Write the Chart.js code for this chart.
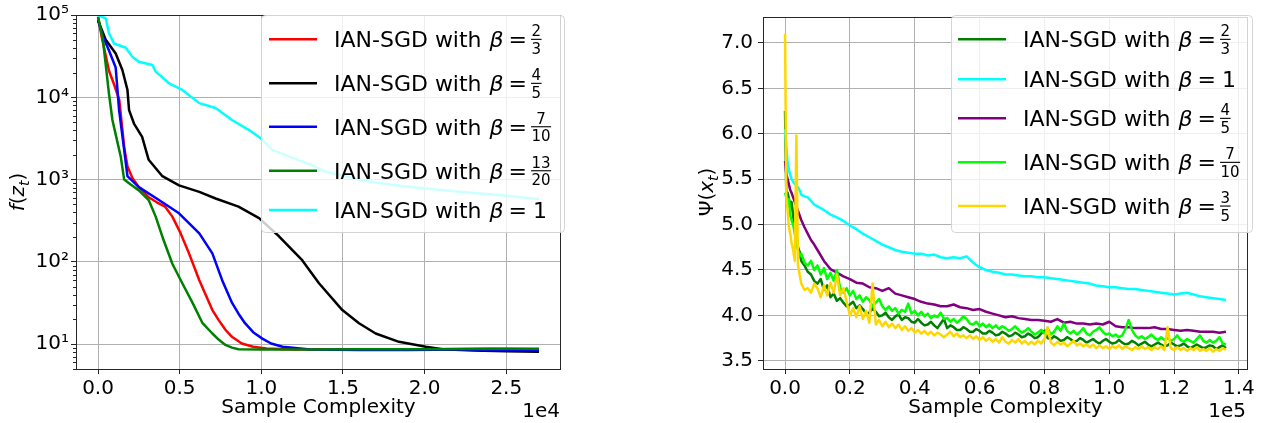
<!DOCTYPE html>
<html><head><meta charset="utf-8">
<script src="https://cdn.jsdelivr.net/npm/chart.js@4.4.1/dist/chart.umd.min.js"></script>
<style>
html,body{margin:0;padding:0;background:#fff;width:1262px;height:423px;overflow:hidden}
canvas{position:absolute;top:0}
#c1{left:0}#c2{left:631px}
</style></head><body>
<canvas id="c1" width="631" height="423"></canvas>
<canvas id="c2" width="631" height="423"></canvas>
<script>
// ---------------- DATA (left: x in units of 1e4) ----------------
const leftBetas = ['2/3', '4/5', '7/10', '13/20', '1'];
const leftXTicks = [0, 0.5, 1.0, 1.5, 2.0, 2.5];
const leftYTicks = [10, 100, 1000, 10000, 100000];

const redX = [0, 0.026, 0.067, 0.10, 0.13, 0.16, 0.18, 0.21, 0.25, 0.31, 0.36, 0.41, 0.455, 0.506, 0.557, 0.62, 0.70, 0.74, 0.78, 0.82, 0.88, 0.95, 1.03, 1.2, 1.5, 1.8, 2.1, 2.4, 2.7];
const redY = [95000, 50000, 21000, 14000, 9300, 2500, 1450, 1050, 810, 610, 530, 470, 355, 222, 127, 60, 26, 19.5, 15, 12.3, 10.2, 9.3, 8.9, 8.6, 8.7, 8.6, 8.7, 8.8, 8.7];

const blackX = [0, 0.047, 0.108, 0.149, 0.18, 0.19, 0.22, 0.27, 0.31, 0.394, 0.496, 0.62, 0.72, 0.86, 0.986, 1.108, 1.25, 1.353, 1.496, 1.598, 1.70, 1.843, 2.007, 2.11, 2.3, 2.5, 2.7];
const blackY = [86000, 50000, 34000, 21500, 12300, 7000, 4800, 3300, 1740, 1100, 850, 710, 590, 470, 340, 205, 105, 55, 26, 18, 13.5, 10.7, 9.3, 8.7, 8.4, 8.2, 8.1];

const blueX = [0, 0.03, 0.067, 0.108, 0.129, 0.16, 0.18, 0.25, 0.373, 0.496, 0.62, 0.70, 0.76, 0.82, 0.86, 0.90, 0.95, 1.006, 1.06, 1.13, 1.3, 1.6, 1.9, 2.2, 2.5, 2.7];
const blueY = [86000, 55000, 37000, 23000, 7000, 2300, 1100, 810, 565, 390, 222, 127, 60, 32, 23.5, 18, 14, 11.7, 10.2, 9.3, 8.6, 8.5, 8.5, 8.6, 8.5, 8.5];

const greenX = [0, 0.03, 0.067, 0.088, 0.11, 0.139, 0.16, 0.2, 0.25, 0.31, 0.353, 0.40, 0.455, 0.516, 0.578, 0.64, 0.70, 0.74, 0.78, 0.82, 0.86, 1.0, 1.3, 1.6, 1.9, 2.2, 2.5, 2.7];
const greenY = [95000, 50000, 11000, 5300, 3400, 1900, 1000, 870, 740, 565, 355, 187, 95, 55, 32, 18, 13.5, 11.3, 9.8, 9.1, 8.7, 8.6, 8.65, 8.7, 8.7, 8.75, 8.8, 8.8];

const cyanX = [0, 0.047, 0.067, 0.098, 0.17, 0.21, 0.25, 0.333, 0.353, 0.435, 0.516, 0.62, 0.72, 0.82, 0.925, 0.986, 1.067, 1.17, 1.31, 1.394, 1.598, 1.80, 2.007, 2.21, 2.415, 2.70];
const cyanY = [99000, 91000, 60000, 45000, 40000, 31000, 27000, 24700, 20500, 14800, 12300, 8500, 7400, 5300, 4000, 3300, 2300, 1900, 1500, 1250, 1000, 860, 780, 710, 660, 580];

// ---------------- DATA (right: x in units of 1e5) ----------------
const rightBetas = ['2/3', '1', '4/5', '7/10', '3/5'];
const rightXTicks = [0, 0.2, 0.4, 0.6, 0.8, 1.0, 1.2, 1.4];
const rightYTicks = [3.5, 4.0, 4.5, 5.0, 5.5, 6.0, 6.5, 7.0];

// coarse sampling (smooth curves)
const rightXCoarse = [0,0.004,0.008,0.012,0.016,0.02,0.025,0.03,0.035,0.04,0.045,0.05,0.06,0.07,0.08,0.09,
  0.10,0.12,0.14,0.16,0.18,0.20,0.22,0.24,0.26,0.28,0.30,0.32,0.34,0.36,0.38,0.40,
  0.42,0.44,0.46,0.48,0.50,0.52,0.54,0.56,0.58,0.60,0.62,0.64,0.66,0.68,0.70,0.72,
  0.74,0.76,0.78,0.80,0.82,0.84,0.86,0.88,0.90,0.92,0.94,0.96,0.98,1.00,1.02,1.04,
  1.06,1.08,1.10,1.12,1.14,1.16,1.18,1.20,1.22,1.24,1.26,1.28,1.30,1.32,1.34,1.36];
// fine sampling (noisy curves)
const rightXFine = [0,0.004,0.008,0.012,0.016,0.02,0.025,0.03,0.035,0.04,0.045,0.05,0.06,0.07,0.08,0.09,
  0.10,0.11,0.12,0.13,0.14,0.15,0.16,0.17,0.18,0.19,0.20,0.21,0.22,0.23,0.24,0.25,0.26,0.27,0.28,0.29,0.30,
  0.31,0.32,0.33,0.34,0.35,0.36,0.37,0.38,0.39,0.40,
  0.41,0.42,0.43,0.44,0.45,0.46,0.47,0.48,0.49,0.50,0.51,0.52,0.53,0.54,0.55,0.56,0.57,0.58,0.59,0.60,
  0.61,0.62,0.63,0.64,0.65,0.66,0.67,0.68,0.69,0.70,
  0.71,0.72,0.73,0.74,0.75,0.76,0.77,0.78,0.79,0.80,0.81,0.82,0.83,0.84,0.85,0.86,0.87,0.88,0.89,0.90,
  0.91,0.92,0.93,0.94,0.95,0.96,0.97,0.98,0.99,1.00,
  1.01,1.02,1.03,1.04,1.05,1.06,1.07,1.08,1.09,1.10,1.11,1.12,1.13,1.14,1.15,1.16,1.17,1.18,1.19,1.20,
  1.21,1.22,1.23,1.24,1.25,1.26,1.27,1.28,1.29,1.30,1.31,1.32,1.33,1.34,1.35,1.36];

const psiB23 = [6.25,5.3,5.35,5.28,5.2,5.25,5.1,4.95,4.88,4.75,4.7,4.6,4.55,4.48,4.45,4.38,
  4.35,4.40,4.28,4.33,4.2,4.24,4.16,4.19,4.14,4.1,4.12,4.15,4.08,4.11,4.07,4.02,4.03,4.08,4.04,3.99,
  4.0,4.03,3.98,3.95,3.99,4.01,3.95,3.98,3.97,3.93,3.92,
  3.96,3.92,3.89,3.9,3.93,3.89,3.86,3.91,3.96,3.86,3.89,3.87,3.84,3.84,3.87,3.85,3.82,3.82,3.85,3.83,
  3.8,3.8,3.83,3.81,3.78,3.79,3.82,3.8,3.77,3.78,
  3.81,3.79,3.76,3.77,3.8,3.78,3.75,3.76,3.8,3.83,3.75,3.74,3.77,3.75,3.72,3.73,3.76,3.74,3.71,3.72,
  3.75,3.73,3.7,3.72,3.74,3.71,3.69,3.72,3.74,3.71,
  3.69,3.7,3.73,3.7,3.68,3.69,3.72,3.7,3.67,3.69,3.71,3.68,3.66,3.68,3.7,3.68,3.66,3.67,3.7,3.68,
  3.66,3.67,3.69,3.66,3.64,3.66,3.68,3.66,3.64,3.65,3.67,3.66,3.63,3.65,3.67,3.64];
const psiB1 = [6.05,5.85,5.68,5.6,5.55,5.5,5.47,5.45,5.43,5.41,5.38,5.33,5.31,5.3,5.26,5.22,
  5.2,5.16,5.11,5.08,5.04,4.99,4.95,4.9,4.86,4.82,4.78,4.75,4.72,4.7,4.69,4.68,
  4.68,4.66,4.67,4.64,4.63,4.64,4.63,4.65,4.58,4.53,4.5,4.48,4.47,4.45,4.45,4.44,
  4.43,4.43,4.42,4.42,4.41,4.4,4.39,4.38,4.37,4.36,4.35,4.33,4.32,4.31,4.31,4.3,
  4.29,4.29,4.28,4.27,4.26,4.25,4.24,4.23,4.24,4.25,4.23,4.21,4.2,4.19,4.18,4.17];
const psiB45 = [5.7,5.55,5.5,5.44,5.38,5.35,5.3,5.25,5.2,5.15,5.1,5.05,4.97,4.9,4.83,4.78,
  4.72,4.6,4.51,4.47,4.43,4.4,4.36,4.35,4.31,4.3,4.27,4.3,4.24,4.22,4.2,4.18,
  4.15,4.13,4.12,4.1,4.1,4.12,4.09,4.08,4.06,4.07,4.04,4.02,4.0,3.98,3.99,3.97,
  3.96,3.95,3.95,3.94,3.93,3.96,3.92,3.93,3.91,3.91,3.9,3.91,3.9,3.93,3.88,3.87,
  3.87,3.86,3.86,3.86,3.87,3.85,3.85,3.84,3.83,3.84,3.83,3.82,3.82,3.82,3.81,3.82];
const psiB710 = [5.35,5.3,5.2,5.28,5.1,5.05,5.0,4.9,4.8,4.72,4.65,4.68,4.58,4.55,4.6,4.5,
  4.55,4.45,4.52,4.4,4.47,4.38,4.5,4.3,4.25,4.3,4.22,4.27,4.18,4.22,4.15,4.2,4.17,4.1,4.14,4.18,
  4.1,4.06,4.1,4.05,4.08,4.02,4.06,4.04,4.13,4.02,4.05,
  4.0,4.04,3.99,4.02,3.97,4.0,3.98,4.03,3.96,3.97,3.93,3.96,3.92,3.95,3.99,3.96,3.91,3.9,3.93,3.88,
  3.91,3.87,3.9,3.86,3.89,3.85,3.88,3.86,3.83,3.85,
  3.88,3.84,3.81,3.83,3.86,3.82,3.79,3.81,3.84,3.8,3.86,3.79,3.82,3.88,3.83,3.91,3.83,3.8,3.83,3.79,
  3.82,3.86,3.8,3.78,3.82,3.84,3.87,3.82,3.79,3.8,
  3.77,3.79,3.76,3.78,3.85,3.95,3.84,3.78,3.75,3.77,3.74,3.76,3.79,3.75,3.73,3.76,3.73,3.75,3.72,3.74,
  3.78,3.73,3.71,3.74,3.72,3.7,3.74,3.78,3.72,3.7,3.73,3.7,3.72,3.76,3.69,3.68];
const psiB35 = [7.1,5.3,5.15,4.97,4.9,4.8,4.72,4.6,5.98,4.55,4.45,4.35,4.28,4.3,4.25,4.35,
  4.3,4.2,4.33,4.22,4.36,4.25,4.45,4.22,4.3,4.15,4.0,4.08,3.98,4.1,3.96,4.05,3.92,4.35,3.9,3.95,
  3.88,3.93,3.87,3.91,3.86,3.9,3.84,3.88,3.83,3.86,3.81,
  3.84,3.8,3.83,3.79,3.82,3.78,3.81,3.79,3.76,3.79,3.82,3.77,3.8,3.76,3.78,3.75,3.78,3.74,3.77,3.73,
  3.76,3.72,3.75,3.71,3.74,3.7,3.76,3.71,3.69,3.73,
  3.7,3.74,3.69,3.72,3.68,3.71,3.68,3.72,3.69,3.74,3.87,3.7,3.67,3.71,3.68,3.7,3.66,3.69,3.72,3.67,
  3.69,3.66,3.68,3.65,3.68,3.64,3.67,3.64,3.66,3.63,
  3.66,3.64,3.67,3.63,3.66,3.64,3.62,3.65,3.63,3.66,3.63,3.65,3.62,3.65,3.63,3.66,3.62,3.87,3.64,3.62,
  3.65,3.62,3.64,3.61,3.64,3.62,3.65,3.61,3.63,3.61,3.64,3.6,3.63,3.61,3.64,3.62];

// ---------------- STYLE ----------------
const leftColors = ['#ff0000', '#000000', '#0000ff', '#008000', '#00ffff'];
const rightColors = ['#008000', '#00ffff', '#800080', '#00ff00', '#ffd700'];
const FAM = '"DejaVu Sans"';
const F = (s, it) => (it ? 'italic ' : '') + s + 'px ' + FAM;
const SUP = {'0':'⁰','1':'¹','2':'²','3':'³','4':'⁴','5':'⁵','6':'⁶','7':'⁷','8':'⁸','9':'⁹'};
const pow10Label = v => '10' + String(Math.round(Math.log10(v))).split('').map(c => SUP[c]).join('');
const pts = (xs, ys) => xs.map((x, i) => ({x: x, y: ys[i]}));

function roundRect(ctx, x, y, w, h, r) {
  ctx.moveTo(x + r, y); ctx.lineTo(x + w - r, y); ctx.arcTo(x + w, y, x + w, y + r, r);
  ctx.lineTo(x + w, y + h - r); ctx.arcTo(x + w, y + h, x + w - r, y + h, r);
  ctx.lineTo(x + r, y + h); ctx.arcTo(x, y + h, x, y + h - r, r);
  ctx.lineTo(x, y + r); ctx.arcTo(x, y, x + r, y, r); ctx.closePath();
}

function drawLegend(ctx, L, labels, colors) {
  ctx.save();
  ctx.beginPath(); roundRect(ctx, L.x + 0.5, L.y + 0.5, L.w, L.h, 4);
  ctx.fillStyle = 'rgba(255,255,255,0.8)'; ctx.fill();
  ctx.strokeStyle = '#d4d4d4'; ctx.lineWidth = 1; ctx.stroke();
  labels.forEach((lab, i) => {
    const y = L.rows[i];
    ctx.strokeStyle = colors[i]; ctx.lineWidth = 2.5; ctx.lineCap = 'butt';
    ctx.beginPath(); ctx.moveTo(L.lx0, y); ctx.lineTo(L.lx1, y); ctx.stroke();
    ctx.fillStyle = '#000'; ctx.textAlign = 'left'; ctx.textBaseline = 'alphabetic';
    const base = y + 8;
    let x = L.tx;
    ctx.font = F(22); const pre = 'IAN-SGD with ';
    ctx.fillText(pre, x, base); x += ctx.measureText(pre).width + 1;
    ctx.font = F(22, true); ctx.fillText('β', x, base); x += ctx.measureText('β').width + 5;
    ctx.font = F(22); ctx.fillText('=', x, base); x += ctx.measureText('=').width + 4;
    if (lab.indexOf('/') >= 0) {
      const [n, d] = lab.split('/');
      ctx.font = F(15);
      const nw = ctx.measureText(n).width, dw = ctx.measureText(d).width;
      const bw = Math.max(nw, dw) + 1;
      ctx.fillRect(x, y - 0.5, bw, 1.1);
      ctx.textAlign = 'center';
      ctx.fillText(n, x + bw / 2, y - 3);
      ctx.fillText(d, x + bw / 2, y + 14.5);
    } else {
      ctx.fillText(lab, x + 2, base);
    }
  });
  ctx.restore();
}

function drawRotTitle(ctx, bx, cy, parts) {
  ctx.save();
  ctx.translate(bx, cy); ctx.rotate(-Math.PI / 2);
  ctx.fillStyle = '#000'; ctx.textBaseline = 'alphabetic'; ctx.textAlign = 'left';
  let tot = 0;
  parts.forEach(p => { ctx.font = F(p.sub ? 14 : 20, p.it); p.w = ctx.measureText(p.t).width; tot += p.w; });
  let x = -tot / 2;
  parts.forEach(p => { ctx.font = F(p.sub ? 14 : 20, p.it); ctx.fillText(p.t, x, p.sub ? 4.5 : 0); x += p.w; });
  ctx.restore();
}

const decor = {
  id: 'decor',
  afterDatasetsDraw(chart, args, o) {
    const ctx = chart.ctx, a = chart.chartArea;
    ctx.save();
    ctx.strokeStyle = '#262626'; ctx.lineWidth = 1;
    if (o.minor) {
      const ys = chart.scales.y;
      o.minor.forEach(v => {
        const p = Math.round(ys.getPixelForValue(v)) + 0.5;
        ctx.beginPath(); ctx.moveTo(a.left - 3, p); ctx.lineTo(a.left, p); ctx.stroke();
      });
    }
    ctx.strokeRect(a.left + 0.5, a.top + 0.5, a.right - a.left - 1, a.bottom - a.top);
    ctx.fillStyle = '#000'; ctx.font = F(20); ctx.textAlign = 'right'; ctx.textBaseline = 'alphabetic';
    ctx.fillText(o.offset, o.offX, 416.5);
    ctx.restore();
    drawRotTitle(ctx, o.titleX, 192, o.title);
  },
  afterDraw(chart, args, o) {
    drawLegend(chart.ctx, o.legend, o.labels, o.colors);
  }
};

function minorLog(min, max) {
  const out = [];
  for (let e = 0; e <= 5; e++) for (let m = 2; m <= 9; m++) {
    const v = m * Math.pow(10, e);
    if (v >= min && v <= max) out.push(v);
  }
  return out;
}

function lineDS(data, color, i) {
  return {data: data, borderColor: color, backgroundColor: color, borderWidth: 2.5,
    pointRadius: 0, tension: 0, fill: false, borderJoinStyle: 'round', order: -i};
}

const gridCommon = {color: '#b0b0b0', lineWidth: 1, drawTicks: true, tickLength: 5, tickColor: '#262626', tickWidth: 1};
const tickFont = {family: 'DejaVu Sans', size: 20};

// ---------------- LEFT CHART ----------------
new Chart(document.getElementById('c1'), {
  type: 'line',
  data: {datasets: [
    lineDS(pts(redX, redY), leftColors[0], 0),
    lineDS(pts(blackX, blackY), leftColors[1], 1),
    lineDS(pts(blueX, blueY), leftColors[2], 2),
    lineDS(pts(greenX, greenY), leftColors[3], 3),
    lineDS(pts(cyanX, cyanY), leftColors[4], 4)
  ]},
  options: {
    responsive: false, animation: false, devicePixelRatio: 1, events: [],
    layout: {padding: {left: 0, top: 15, right: 70, bottom: 0}},
    scales: {
      x: {type: 'linear', min: -0.135, max: 2.835,
        afterBuildTicks: s => { s.ticks = leftXTicks.map(v => ({value: v})); },
        afterFit: s => { s.height = 54; },
        grid: gridCommon, border: {display: false},
        ticks: {font: tickFont, color: '#000', padding: 3, maxRotation: 0, callback: v => v.toFixed(1)},
        title: {display: true, text: 'Sample Complexity', font: {family: 'DejaVu Sans', size: 20}, color: '#000', padding: {top: 0, bottom: 3}}},
      y: {type: 'logarithmic', min: 5, max: 100000,
        afterBuildTicks: s => { s.ticks = leftYTicks.map(v => ({value: v})); },
        afterFit: s => { s.width = 76; },
        grid: gridCommon, border: {display: false},
        ticks: {font: tickFont, color: '#000', padding: 2, callback: v => pow10Label(v)}}
    },
    plugins: {legend: {display: false}, tooltip: {enabled: false},
      decor: {minor: minorLog(5, 100000), offset: '1e4', offX: 560, titleX: 24,
        title: [{t: 'f', it: true}, {t: '('}, {t: 'z', it: true}, {t: 't', it: true, sub: true}, {t: ')'}],
        legend: {x: 261, y: 15, w: 303, h: 217, lx0: 269, lx1: 317, tx: 334, rows: [39.3, 83.3, 126.7, 170.7, 210]},
        labels: leftBetas, colors: leftColors}}
  },
  plugins: [decor]
});

// ---------------- RIGHT CHART ----------------
new Chart(document.getElementById('c2'), {
  type: 'line',
  data: {datasets: [
    lineDS(pts(rightXFine, psiB23), rightColors[0], 0),
    lineDS(pts(rightXCoarse, psiB1), rightColors[1], 1),
    lineDS(pts(rightXCoarse, psiB45), rightColors[2], 2),
    lineDS(pts(rightXFine, psiB710), rightColors[3], 3),
    lineDS(pts(rightXFine, psiB35), rightColors[4], 4)
  ]},
  options: {
    responsive: false, animation: false, devicePixelRatio: 1, events: [],
    layout: {padding: {left: 0, top: 15, right: 14, bottom: 0}},
    scales: {
      x: {type: 'linear', min: -0.068, max: 1.428,
        afterBuildTicks: s => { s.ticks = rightXTicks.map(v => ({value: v})); },
        afterFit: s => { s.height = 54; },
        grid: gridCommon, border: {display: false},
        ticks: {font: tickFont, color: '#000', padding: 3, maxRotation: 0, callback: v => v.toFixed(1)},
        title: {display: true, text: 'Sample Complexity', font: {family: 'DejaVu Sans', size: 20}, color: '#000', padding: {top: 0, bottom: 3}}},
      y: {type: 'linear', min: 3.41, max: 7.285,
        afterBuildTicks: s => { s.ticks = rightYTicks.map(v => ({value: v})); },
        afterFit: s => { s.width = 132; },
        grid: gridCommon, border: {display: false},
        ticks: {font: tickFont, color: '#000', padding: 5, callback: v => v.toFixed(1)}}
    },
    plugins: {legend: {display: false}, tooltip: {enabled: false},
      decor: {offset: '1e5', offX: 615, titleX: 82,
        title: [{t: 'Ψ'}, {t: '('}, {t: 'x', it: true}, {t: 't', it: true, sub: true}, {t: ')'}],
        legend: {x: 320, y: 15, w: 301, h: 217, lx0: 327, lx1: 375, tx: 392, rows: [39.3, 79.3, 118.3, 162.3, 206]},
        labels: rightBetas, colors: rightColors}}
  },
  plugins: [decor]
});
</script></body></html>
